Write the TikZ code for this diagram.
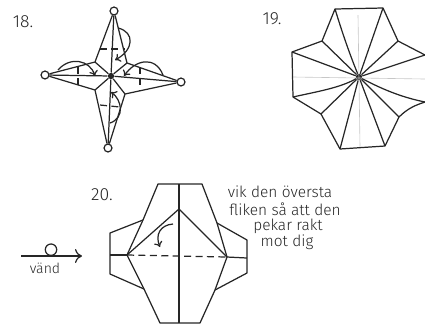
\documentclass[tikz,border=0pt]{standalone}
\usepackage{fontspec}
\setmainfont{Fira Sans Light}
\usetikzlibrary{arrows.meta}
\begin{document}
\begin{tikzpicture}[
    x=0.02cm, y=-0.02cm,
    ink/.style={draw=black!85, line width=0.7pt, line join=round},
    fold/.style={ink, dashed, dash pattern=on 4pt off 2.5pt},
    faint/.style={draw=black!22, line width=0.35pt},
    arrow/.style={ink, -{To[length=3pt,width=5pt]}},
    bigarrow/.style={ink, -{To[length=4pt,width=8pt]}},
    ring/.style={circle, draw=black!85, line width=0.7pt, minimum size=4.5pt, inner sep=0pt},
    hub/.style={circle, fill=black!85, minimum size=3.6pt, inner sep=0pt},
    label/.style={font=\normalsize, text=black!85, inner sep=0pt},
    note/.style={font=\fontsize{8.8}{10}\selectfont, text=black!85, inner sep=0pt}
]
\useasboundingbox (0,0) rectangle (425,329);

% Step 18
\node[label] (n18) at (23,22) {18.};
\node[ring] (top) at (114,11) {};
\node[ring] (lft) at (45,75) {};
\node[ring] (rgt) at (181,82) {};
\node[ring] (bot) at (108,148) {};
\node[hub] (mid) at (111,76) {};
\coordinate (a1) at (95,62);
\coordinate (a2) at (127,63);
\coordinate (a3) at (125,94);
\coordinate (a4) at (95,90);

\draw[ink] (top) -- (a1) -- (lft) -- (a4) -- (bot) -- (a3) -- (rgt) -- (a2) -- (top);
\draw[ink] (top) -- (mid) -- (bot);
\draw[ink] (lft) -- (mid) -- (rgt);
\draw[ink] (a1) -- (mid) -- (a3);
\draw[ink] (a2) -- (mid) -- (a4);

\draw[fold] (100,49) -- (125,49);
\draw[fold] (78,67) -- (78,87);
\draw[fold] (140,67) -- (140,90);
\draw[fold] (100,105) -- (120,107);

\draw[arrow] (118,28) .. controls (135,32) and (134,50) .. (115,60);
\draw[arrow] (58,70) .. controls (70,56) and (90,60) .. (95,76);
\draw[arrow] (163,75) .. controls (155,55) and (135,60) .. (124,76);
\draw[arrow] (110,123) .. controls (125,118) and (122,100) .. (111,92);

% Step 19
\node[label] (n19) at (272,19) {19.};
\node[hub] (c) at (359,77) {};
\coordinate (b1) at (335,9);
\coordinate (b2) at (383,8);
\coordinate (b3) at (398,41);
\coordinate (b4) at (425,55);
\coordinate (b5) at (425,102);
\coordinate (b6) at (399,117);
\coordinate (b7) at (385,146);
\coordinate (b8) at (340,149);
\coordinate (b9) at (321,114);
\coordinate (b10) at (293,97);
\coordinate (b11) at (292,52);
\coordinate (b12) at (322,41);

\draw[faint] (358,15) -- (360,147);
\draw[faint] (293,77) -- (425,79);
\draw[ink] (b4) -- (b3) -- (b2) -- (b1) -- (b12) -- (b11) -- (b10)
    -- (b9) -- (b8) -- (b7) -- (b6)
    .. controls (408,108) and (416,105) .. (b5);
\draw[ink] (b1) .. controls (343,35) and (350,55) .. (c);
\foreach \p in {b2,b3,b4,b6,b7,b8,b9,b11,b12} {
    \draw[ink] (c) -- (\p);
}
\draw[ink] (c) .. controls (340,88) and (315,92) .. (b10);
\draw[ink] (c) .. controls (380,88) and (400,97) .. (b5);

% Step 20
\node[label] (n20) at (102,195) {20.};
\coordinate (d1) at (158,184);
\coordinate (d2) at (202,184);
\coordinate (d3) at (217,223);
\coordinate (d4) at (227,257);
\coordinate (d5) at (215,290);
\coordinate (d6) at (200,323);
\coordinate (d7) at (160,323);
\coordinate (d8) at (144,289);
\coordinate (d9) at (127,255);
\coordinate (d10) at (143,220);
\coordinate (topmid) at (179,184);
\coordinate (botmid) at (179,323);
\coordinate (peak) at (179,209);

\draw[ink] (d9) -- (d10) -- (d1) -- (d2) -- (d3) -- (d4) -- (d5) -- (d6) -- (d7) -- (d8) -- cycle;
\draw[ink] (topmid) -- (botmid);
\draw[ink] (d9) -- (peak) -- (d4);
\draw[ink] (d10) -- (110,233) -- (110,274) -- (d8);
\draw[ink] (110,255) -- (d9);
\draw[ink] (d3) -- (247,240) -- (247,273) -- (d5);
\draw[ink] (d4) -- (247,258);
\draw[fold] (d9) -- (d4);
\draw[arrow] (173,224) .. controls (160,225) and (155,235) .. (160,247);

% Turn over
\coordinate (t1) at (21,256);
\coordinate (t2) at (82,256);
\node[ring, minimum size=6.5pt, anchor=south] (o) at (51,256) {};
\draw[bigarrow] (t1) -- (t2);
\node[note, font=\footnotesize] (vand) at (45,268) {vänd};

% Note
\node[note] (l1) at (280,192) {vik den översta};
\node[note] (l2) at (285,209) {fliken så att den};
\node[note] (l3) at (288,226) {pekar rakt};
\node[note] (l4) at (287,242) {mot dig};

\end{tikzpicture}
\end{document}
